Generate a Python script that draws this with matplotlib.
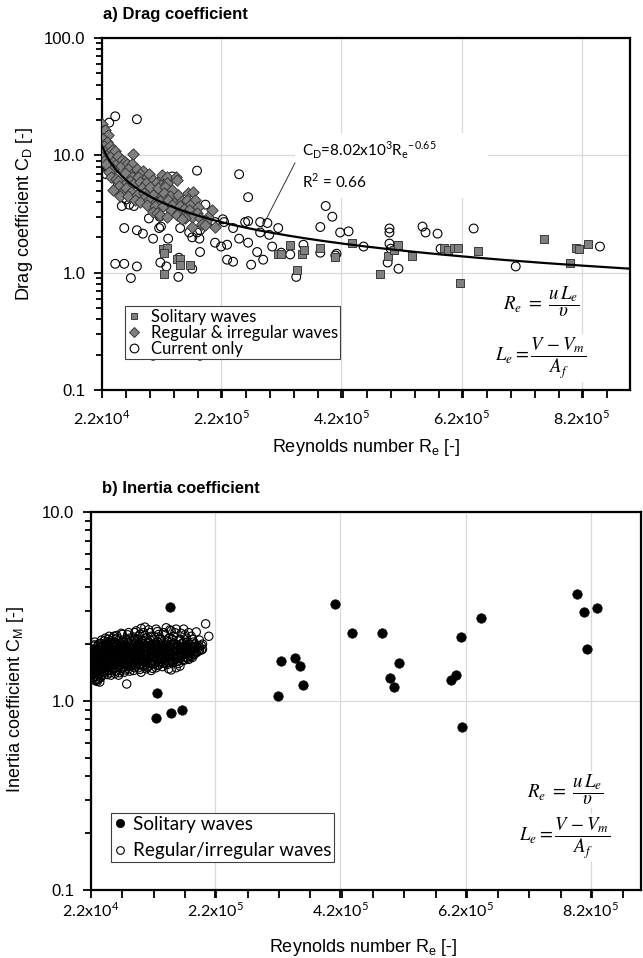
import numpy as np
import matplotlib
matplotlib.use('Agg')
import matplotlib.pyplot as plt
from matplotlib.ticker import MultipleLocator, LogLocator, FuncFormatter, NullFormatter
from matplotlib.lines import Line2D
from matplotlib.patches import Rectangle
from matplotlib.font_manager import FontProperties

# ---------------- data (Re in thousands) ----------------
# a) drag coefficient
solitary_top = [(124, 1.60), (130, 1.63), (125, 1.48), (125, 0.98), (147, 1.32), (152, 1.32), (152, 1.17),
                (169, 1.17), (315, 1.43), (320, 1.43), (335, 1.73), (355, 1.43), (358, 1.55), (347, 1.06),
                (384, 1.63), (410, 1.37), (438, 1.80), (497, 1.40), (507, 1.57), (515, 1.73), (538, 1.40),
                (485, 0.98), (590, 1.63), (597, 1.57), (607, 1.63), (614, 1.63), (647, 1.54), (617, 0.82),
                (757, 1.95), (800, 1.22), (810, 1.63), (815, 1.60), (830, 1.77)]

regular_top = [(22, 18.4), (23, 16.0), (27, 16.6), (32, 15.0), (24, 13.7), (22, 11.9), (30, 12.9), (26, 12.0),
               (23, 10.5), (28, 11.0), (33, 10.5), (36, 12.0), (39, 11.2), (44, 10.8), (35, 9.6), (25, 9.0),
               (28, 8.5), (42, 9.0), (46, 8.5), (49, 9.8), (55, 9.2), (55, 8.0), (60, 8.8), (74, 10.2),
               (64, 8.4), (72, 8.4), (52, 7.9), (40, 7.6), (33, 7.2), (66, 7.6), (75, 7.2), (80, 7.6),
               (90, 7.3), (86, 6.9), (60, 7.1), (37, 6.5), (45, 6.3), (72, 6.6), (82, 6.5), (97, 6.5),
               (100, 7.0), (107, 6.2), (119, 6.2), (122, 6.8), (130, 6.5), (145, 6.6), (147, 6.2), (49, 6.0),
               (68, 6.0), (60, 5.65), (74, 5.65), (85, 5.9), (95, 5.8), (112, 5.8), (120, 5.6), (130, 5.8),
               (89, 5.3), (102, 5.4), (115, 5.3), (127, 5.4), (139, 5.1), (50, 5.5), (57, 5.0), (62, 5.3),
               (40, 5.1), (70, 4.9), (52, 4.5), (65, 4.5), (80, 4.6), (92, 4.8), (94, 4.4), (107, 4.6),
               (122, 4.5), (125, 4.8), (135, 4.5), (149, 4.6), (165, 4.8), (174, 4.9), (77, 4.2), (85, 4.0),
               (100, 4.2), (112, 4.0), (118, 4.1), (131, 4.2), (142, 3.9), (155, 4.1), (164, 4.2), (177, 4.2),
               (97, 3.8), (110, 3.7), (124, 3.7), (139, 3.8), (152, 3.7), (169, 3.8), (182, 3.6), (158, 3.5),
               (137, 3.4), (166, 3.4), (205, 3.45), (107, 3.3), (114, 3.25), (149, 3.25), (180, 3.25),
               (119, 3.1), (130, 3.0), (147, 3.1), (160, 3.1), (172, 3.0), (198, 3.0), (160, 2.95), (185, 2.9),
               (155, 2.85), (195, 2.75), (188, 2.6), (193, 2.57), (172, 2.47), (210, 2.43)]

current_top = [(44, 21.5), (34, 19.0), (80, 20.3), (180, 7.4), (250, 6.9), (265, 4.4), (394, 3.7), (405, 3.0),
               (139, 6.6), (29, 6.9), (44, 5.1), (55, 3.7), (67, 3.8), (194, 3.8), (27, 10.5), (31, 8.0),
               (48, 5.8), (62, 4.2), (75, 3.7), (100, 2.9), (118, 3.0), (150, 3.3), (223, 2.85),
               (59, 2.4), (80, 2.3), (90, 2.15), (107, 1.95), (132, 1.95), (117, 2.4), (120, 2.47), (152, 2.4),
               (167, 2.2), (180, 2.2), (185, 2.3), (172, 2.0), (184, 1.95), (210, 2.7), (225, 2.7), (240, 2.4),
               (260, 2.7), (265, 2.75), (285, 2.7), (297, 2.65), (315, 2.4), (285, 2.2), (300, 2.1), (385, 2.45),
               (210, 1.8), (220, 1.67), (230, 1.73), (250, 1.95), (265, 1.8), (270, 1.17), (280, 1.5), (290, 1.29),
               (305, 1.67), (320, 1.48), (335, 1.43), (345, 0.92), (357, 1.73), (385, 1.48), (230, 1.29),
               (240, 1.24), (44, 1.19), (59, 1.19), (80, 1.13), (70, 0.90), (119, 1.22), (129, 1.13),
               (149, 0.92), (150, 1.34), (172, 1.08), (185, 1.50), (418, 2.2), (432, 2.25), (457, 1.67),
               (500, 2.38), (500, 2.2), (500, 1.77), (502, 1.6), (497, 1.22), (515, 1.08), (555, 2.47),
               (560, 2.2), (580, 2.15), (585, 1.6), (640, 2.38), (710, 1.13), (850, 1.67), (410, 1.4),
               (412, 1.45), (107, 0.196), (185, 0.196)]

fit_a = 8.02e3
fit_b = -0.65

# b) inertia coefficient
solitary_bot = [(148, 3.14), (127, 1.10), (126, 0.81), (150, 0.86), (168, 0.90), (320, 1.06), (326, 1.63),
                (347, 1.69), (355, 1.53), (360, 1.22), (412, 3.26), (438, 2.29), (486, 2.29), (499, 1.32),
                (506, 1.19), (514, 1.59), (596, 1.29), (605, 1.37), (613, 2.18), (645, 2.75), (615, 0.73),
                (798, 3.68), (809, 2.96), (830, 3.10), (814, 1.88)]

regular_bot_re = [22, 24, 26, 28, 30, 32, 34, 36, 39, 42, 45, 48, 51, 54, 57, 60, 63, 66, 69, 72, 75, 79, 82,
                  86, 90, 94, 98, 102, 106, 110, 114, 118, 122, 126, 130, 134, 138, 142, 146, 150, 154, 158,
                  162, 166, 170, 174, 178, 182, 186, 190, 195, 200, 205, 210]
regular_bot_cm = [[1.48, 1.58, 1.66, 1.75], [1.52, 1.62, 1.71, 1.82, 1.40], [1.45, 1.57, 1.68, 1.78, 1.95],
                  [1.35, 1.50, 1.63, 1.72, 1.85, 2.05], [1.30, 1.42, 1.55, 1.66, 1.77, 1.90],
                  [1.27, 1.38, 1.60, 1.70, 1.82], [1.32, 1.48, 1.58, 1.75, 1.88, 2.0],
                  [1.26, 1.45, 1.62, 1.72, 1.80], [1.36, 1.52, 1.65, 1.78, 1.92, 2.1],
                  [1.42, 1.58, 1.68, 1.85, 1.98], [1.50, 1.62, 1.73, 1.83, 2.15],
                  [1.38, 1.55, 1.66, 1.78, 1.90, 2.05], [1.45, 1.60, 1.70, 1.82, 1.95, 2.2],
                  [1.37, 1.52, 1.64, 1.76, 1.88, 2.08], [1.48, 1.58, 1.70, 1.80, 1.93, 2.15],
                  [1.40, 1.55, 1.66, 1.78, 1.87, 2.02], [1.50, 1.62, 1.73, 1.84, 1.96, 2.22],
                  [1.37, 1.57, 1.68, 1.80, 1.90, 2.1], [1.45, 1.60, 1.72, 1.85, 1.98],
                  [1.52, 1.65, 1.76, 1.88, 2.05, 2.25], [1.42, 1.58, 1.70, 1.82, 1.93],
                  [1.23, 1.55, 1.67, 1.78, 1.90, 2.12], [1.48, 1.62, 1.74, 1.86, 2.0, 2.3],
                  [1.53, 1.66, 1.77, 1.90, 2.08], [1.45, 1.60, 1.72, 1.84, 1.95, 2.18],
                  [1.55, 1.68, 1.80, 1.92, 2.05, 2.35], [1.50, 1.63, 1.75, 1.87, 1.98, 2.2],
                  [1.42, 1.58, 1.70, 1.82, 1.94, 2.1, 2.42], [1.55, 1.66, 1.78, 1.90, 2.02, 2.3],
                  [1.48, 1.62, 1.74, 1.86, 1.97, 2.15], [1.53, 1.68, 1.80, 1.92, 2.05, 2.38],
                  [1.45, 1.60, 1.72, 1.84, 1.96, 2.2], [1.57, 1.70, 1.82, 1.94, 2.1],
                  [1.50, 1.65, 1.77, 1.88, 2.0, 2.4], [1.55, 1.68, 1.80, 1.92, 2.25],
                  [1.62, 1.74, 1.86, 1.98, 2.12], [1.58, 1.70, 1.82, 1.93, 2.3],
                  [1.65, 1.77, 1.88, 2.0, 2.44], [1.48, 1.60, 1.72, 1.84, 1.95, 2.15],
                  [1.46, 1.66, 1.78, 1.90, 2.05, 2.35], [1.62, 1.74, 1.86, 1.98, 2.2],
                  [1.50, 1.68, 1.80, 1.92, 2.4], [1.58, 1.72, 1.84, 1.96, 2.1],
                  [1.71, 1.78, 1.88, 2.0, 2.28], [1.64, 1.76, 1.90, 2.05, 2.4], [1.70, 1.82, 1.94, 2.15],
                  [1.66, 1.78, 1.88, 2.0, 2.3], [1.72, 1.84, 1.93, 2.2], [1.76, 1.90, 2.05],
                  [1.80, 1.95, 2.32], [1.85, 1.93, 2.1], [1.88, 2.0], [2.56], [2.2]]

regular_bot_re2 = [23, 25, 27, 29, 31, 33, 35, 37.5, 40.5, 43.5, 46.5, 49.5, 52.5, 55.5, 58.5, 61.5, 64.5,
                   67.5, 70.5, 73.5, 77, 80.5, 84, 88, 92, 96, 100, 104, 108, 112, 116, 120, 124, 128, 132,
                   136, 140, 144, 148, 152, 156, 160, 164, 168, 172, 176, 180, 184, 188, 193, 198]
regular_bot_cm2 = [[1.54, 1.63, 1.70, 1.79], [1.33, 1.50, 1.60, 1.67, 1.74, 1.88],
                   [1.40, 1.53, 1.61, 1.69, 1.80, 1.98], [1.28, 1.46, 1.58, 1.68, 1.75, 1.83],
                   [1.35, 1.52, 1.62, 1.72, 1.86], [1.30, 1.44, 1.56, 1.65, 1.78, 1.95],
                   [1.40, 1.53, 1.64, 1.70, 1.84], [1.33, 1.49, 1.60, 1.69, 1.76, 1.87, 2.02],
                   [1.47, 1.56, 1.63, 1.74, 1.82, 1.95], [1.38, 1.54, 1.65, 1.77, 1.90, 2.08],
                   [1.44, 1.58, 1.69, 1.76, 1.87, 1.99], [1.52, 1.63, 1.74, 1.85, 2.12],
                   [1.41, 1.57, 1.67, 1.79, 1.91, 2.02], [1.46, 1.60, 1.73, 1.83, 1.97],
                   [1.54, 1.64, 1.76, 1.86, 2.05, 2.2], [1.44, 1.59, 1.70, 1.81, 1.92],
                   [1.53, 1.66, 1.77, 1.88, 2.0, 2.15], [1.41, 1.61, 1.71, 1.83, 1.94],
                   [1.49, 1.63, 1.75, 1.87, 2.01, 2.28], [1.56, 1.68, 1.79, 1.91, 2.1],
                   [1.46, 1.61, 1.73, 1.85, 1.97], [1.52, 1.65, 1.77, 1.89, 2.04, 2.24],
                   [1.44, 1.59, 1.70, 1.82, 1.93, 2.15], [1.57, 1.69, 1.80, 1.92, 2.02],
                   [1.50, 1.64, 1.76, 1.88, 2.1, 2.3], [1.58, 1.71, 1.83, 1.95, 2.12],
                   [1.47, 1.62, 1.74, 1.86, 1.99, 2.25], [1.53, 1.68, 1.80, 1.93, 2.08],
                   [1.60, 1.72, 1.84, 1.96, 2.22, 2.46], [1.51, 1.65, 1.77, 1.89, 2.02],
                   [1.58, 1.70, 1.83, 1.95, 2.1, 2.3], [1.49, 1.63, 1.75, 1.87, 1.99],
                   [1.61, 1.73, 1.85, 1.97, 2.18], [1.54, 1.67, 1.79, 1.91, 2.06, 2.33],
                   [1.59, 1.71, 1.83, 1.95, 2.15], [1.52, 1.65, 1.77, 1.89, 2.02],
                   [1.61, 1.73, 1.85, 1.97, 2.25], [1.56, 1.69, 1.81, 1.93, 2.08],
                   [1.64, 1.75, 1.87, 1.99, 2.38], [1.59, 1.71, 1.83, 1.95, 2.12],
                   [1.66, 1.77, 1.89, 2.01, 2.3], [1.62, 1.74, 1.86, 1.98], [1.53, 1.68, 1.80, 1.92, 2.12],
                   [1.65, 1.77, 1.89, 2.02], [1.71, 1.83, 1.95, 2.24], [1.68, 1.80, 1.92, 2.05],
                   [1.74, 1.86, 1.98], [1.70, 1.82, 1.95, 2.12], [1.78, 1.90, 2.0], [1.83, 1.96], [1.86, 1.97]]

xtick_vals = [2.2e4, 2.2e5, 4.2e5, 6.2e5, 8.2e5]
xtick_labels = ['2.2x10$^\\mathregular{4}$', '2.2x10$^\\mathregular{5}$', '4.2x10$^\\mathregular{5}$',
                '6.2x10$^\\mathregular{5}$', '8.2x10$^\\mathregular{5}$']

# ---------------- figure ----------------
W, H = 643, 958
fig = plt.figure(figsize=(W / 100, H / 100), dpi=100)


def rect(l, t, r, b):
    return [l / W, 1 - b / H, (r - l) / W, (b - t) / H]


ax1 = fig.add_axes(rect(102, 38, 630, 390))
ax2 = fig.add_axes(rect(91, 512, 641, 890))

SANS = 'Liberation Sans'
CAL = 'Lato'
GRID = '#d9d9d9'


def style_axes(ax, ylim, minor_step, xpad):
    ax.set_xlim(2.2e4, 9.0e5)
    ax.set_yscale('log')
    ax.set_ylim(*ylim)
    ax.set_xticks(xtick_vals, xtick_labels)
    ax.xaxis.set_minor_locator(MultipleLocator(minor_step, offset=2.2e4))
    ax.yaxis.set_major_locator(LogLocator(base=10))
    ax.yaxis.set_minor_locator(LogLocator(base=10, subs=np.arange(2, 10)))
    ax.yaxis.set_major_formatter(FuncFormatter(lambda v, p: f'{v:.1f}'))
    ax.yaxis.set_minor_formatter(NullFormatter())
    ax.tick_params(axis='both', which='both', direction='out', color='black', width=1.3)
    ax.tick_params(axis='x', which='both', length=6, pad=xpad)
    ax.tick_params(axis='y', which='major', length=6, pad=6)
    ax.tick_params(axis='y', which='minor', length=4)
    for lab in ax.get_xticklabels():
        lab.set_fontfamily(CAL)
        lab.set_fontsize(11.5)
    for lab in ax.get_yticklabels():
        lab.set_fontfamily(SANS)
        lab.set_fontsize(12)
    for s in ax.spines.values():
        s.set_linewidth(1.6)
        s.set_color('black')
    ax.grid(True, which='major', color=GRID, lw=0.9)
    ax.set_axisbelow(True)


style_axes(ax1, (0.1, 100), 4e4, 8)
style_axes(ax2, (0.1, 10), 5e4, 2)

# ---- panel a ----
re_c, cd_c = zip(*current_top)
re_r, cd_r = zip(*regular_top)
re_s, cd_s = zip(*solitary_top)
ax1.scatter(np.array(re_c) * 1e3, cd_c, s=40, marker='o', facecolors='none', edgecolors='black',
            linewidths=0.8, zorder=3)
ax1.scatter(np.array(re_r) * 1e3, cd_r, s=34, marker='D', facecolors='#808080', edgecolors='#3a3a3a',
            linewidths=0.7, zorder=4)
ax1.scatter(np.array(re_s) * 1e3, cd_s, s=26, marker='s', facecolors='#808080', edgecolors='#3a3a3a',
            linewidths=0.7, zorder=5)
re_fit = np.linspace(2.2e4, 9.0e5, 400)
ax1.plot(re_fit, fit_a * re_fit ** fit_b, color='black', lw=1.6, zorder=6)

ax1.add_patch(Rectangle((0.3655, 0.545), 0.3655, 0.185, transform=ax1.transAxes, facecolor='white',
                        edgecolor='none', zorder=1))
ax1.text(0.379, 0.682, 'C$_\\mathregular{D}$=8.02x10$^\\mathregular{3}$R$_\\mathregular{e}$$^\\mathregular{-0.65}$',
         transform=ax1.transAxes, family=CAL, fontsize=11, va='center', ha='left', zorder=7)
ax1.text(0.379, 0.594, 'R$^\\mathregular{2}$ = 0.66', transform=ax1.transAxes, family=CAL, fontsize=11,
         va='center', ha='left', zorder=7)
ax1.plot([0.3655, 0.303], [0.645, 0.462], transform=ax1.transAxes, color='#333333', lw=0.7, zorder=7)

eq_kw = dict(math_fontfamily='stix', fontsize=13.5, ha='center', va='center', zorder=7,
             bbox=dict(facecolor='white', edgecolor='none', pad=1))
ax1.text(0.831, 0.25, r'$R_e\ =\ \dfrac{u\,L_e}{\upsilon}$', transform=ax1.transAxes, **eq_kw)
ax1.text(0.831, 0.091, r'$L_e = \dfrac{V\,-V_m}{A_f}$', transform=ax1.transAxes, **eq_kw)

h_sol = Line2D([], [], ls='none', marker='s', ms=5, mfc='#808080', mec='#3a3a3a', mew=0.7)
h_reg = Line2D([], [], ls='none', marker='D', ms=4.6, mfc='#808080', mec='#3a3a3a', mew=0.7)
h_cur = Line2D([], [], ls='none', marker='o', ms=6.3, mfc='white', mec='black', mew=0.8)
leg1 = ax1.legend([h_sol, h_reg, h_cur], ['Solitary waves', 'Regular & irregular waves', 'Current only'],
                  loc='lower left', bbox_to_anchor=(0.0436, 0.088), borderaxespad=0, fancybox=False,
                  framealpha=1, edgecolor='#404040', prop=FontProperties(family=CAL, size=12),
                  labelspacing=0.0, handlelength=0.8, handletextpad=0.6, borderpad=0.15)
leg1.get_frame().set_linewidth(0.8)
leg1.set_zorder(10)

# ---- panel b ----
re_rb = []
cm_rb = []
for r, cms in list(zip(regular_bot_re, regular_bot_cm)) + list(zip(regular_bot_re2, regular_bot_cm2)):
    for c in cms:
        re_rb.append(r * 1e3)
        cm_rb.append(c)
re_sb, cm_sb = zip(*solitary_bot)
ax2.scatter(re_rb, cm_rb, s=36, marker='o', facecolors='none', edgecolors='black', linewidths=0.8, zorder=3)
ax2.scatter(np.array(re_sb) * 1e3, cm_sb, s=46, marker='o', facecolors='black', edgecolors='black',
            linewidths=0.5, zorder=4)
ax2.text(0.862, 0.265, r'$R_e\ =\ \dfrac{u\,L_e}{\upsilon}$', transform=ax2.transAxes, **eq_kw)
ax2.text(0.862, 0.138, r'$L_e = \dfrac{V\,-V_m}{A_f}$', transform=ax2.transAxes, **eq_kw)

h_sb = Line2D([], [], ls='none', marker='o', ms=6, mfc='black', mec='black', mew=0.5)
h_rb = Line2D([], [], ls='none', marker='o', ms=5.5, mfc='white', mec='black', mew=0.8)
leg2 = ax2.legend([h_sb, h_rb], ['Solitary waves', 'Regular/irregular waves'],
                  loc='lower left', bbox_to_anchor=(0.0364, 0.074), borderaxespad=0, fancybox=False,
                  framealpha=1, edgecolor='#404040', prop=FontProperties(family=CAL, size=13.6),
                  labelspacing=0.5, handlelength=0.6, handletextpad=0.4, borderpad=0.15)
leg2.get_frame().set_linewidth(0.8)
leg2.set_zorder(10)

# ---- titles and labels ----
fig.text(103 / W, 1 - 15 / H, 'a) Drag coefficient', family=SANS, fontweight='bold', fontsize=12,
         ha='left', va='center')
fig.text(102 / W, 1 - 488 / H, 'b) Inertia coefficient', family=SANS, fontweight='bold', fontsize=12,
         ha='left', va='center')
fig.text(366 / W, 1 - 447 / H, 'Reynolds number R$_\\mathregular{e}$ [-]', family=SANS, fontsize=13,
         ha='center', va='center')
fig.text(363 / W, 1 - 947 / H, 'Reynolds number R$_\\mathregular{e}$ [-]', family=SANS, fontsize=13,
         ha='center', va='center')
fig.text(25 / W, 1 - 214 / H, 'Drag coefficient C$_\\mathregular{D}$ [-]', family=SANS, fontsize=13,
         ha='center', va='center', rotation=90)
fig.text(16 / W, 1 - 700 / H, 'Inertia coefficient C$_\\mathregular{M}$ [-]', family=SANS, fontsize=13,
         ha='center', va='center', rotation=90)

fig.savefig('out.png', dpi=100, facecolor='white')
